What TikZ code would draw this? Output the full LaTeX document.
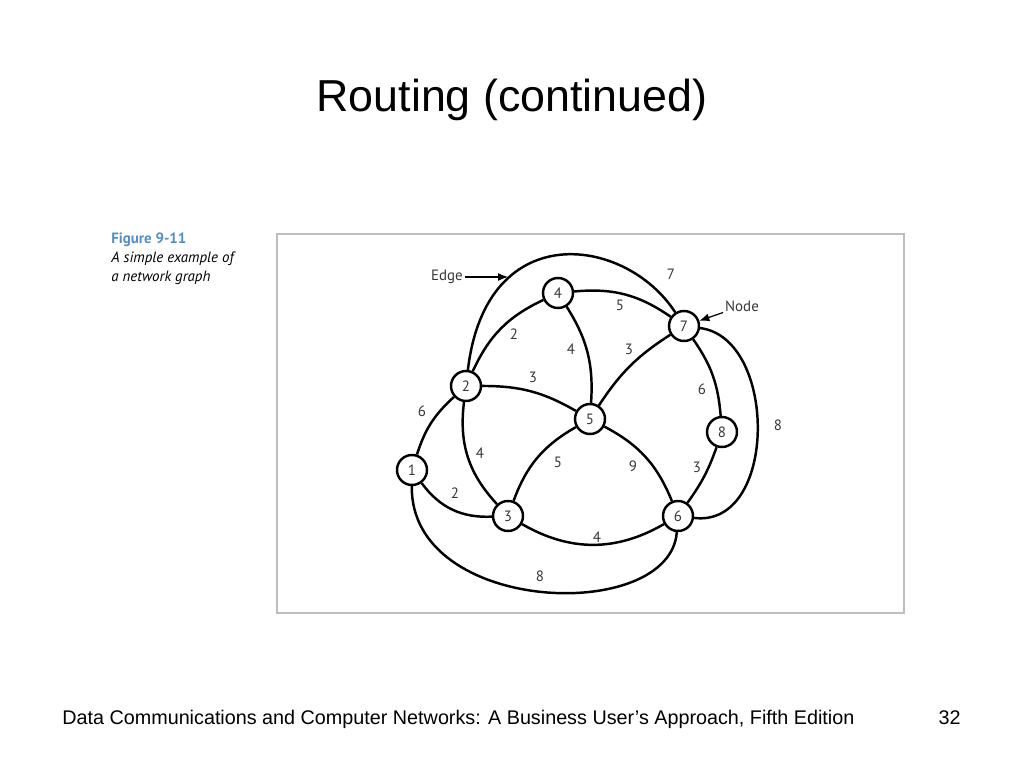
\documentclass[tikz,border=0pt]{standalone}
\usepackage{fontspec}
\setmainfont{Liberation Sans}
\newfontfamily\figfont{PT Sans}
\usetikzlibrary{arrows.meta}
\definecolor{figblue}{RGB}{84,141,196}
\definecolor{framegray}{RGB}{190,190,190}
\definecolor{inkgray}{RGB}{55,55,55}

\tikzset{
  netnode/.style={circle, draw, line width=1.4pt, minimum size=0.6cm, inner sep=0pt,
    text=inkgray, font=\figfont\fontsize{8.5}{9}\selectfont},
  link/.style={line width=1.4pt},
  weight/.style={text=inkgray, font=\figfont\fontsize{8.5}{9}\selectfont},
  callout/.style={line width=0.7pt, -{Latex[length=2mm,width=1.6mm]}}
}

\begin{document}
\begin{tikzpicture}[x=0.02cm, y=0.02cm]
    \useasboundingbox (0,0) rectangle (1024,768);

    % Slide title
    \node[anchor=base, font=\fontsize{25.5}{30}\selectfont] (title) at (512,656) {Routing (continued)};

    % Figure caption
    \node[anchor=base west, inner sep=0pt, text=figblue, font=\figfont\bfseries\fontsize{8.5}{10}\selectfont] (fignum) at (111,524) {Figure 9-11};
    \node[anchor=base west, inner sep=0pt, font=\figfont\itshape\fontsize{8.5}{10}\selectfont] (figcap1) at (111,505) {A simple example of};
    \node[anchor=base west, inner sep=0pt, font=\figfont\itshape\fontsize{8.5}{10}\selectfont] (figcap2) at (111,486) {a network graph};

    % Figure frame
    \draw[framegray, line width=0.9pt] (277,155) rectangle (904,534);

    % Network nodes
    \node[netnode] (n1) at (412,298) {1};
    \node[netnode] (n2) at (466,382) {2};
    \node[netnode] (n3) at (508,252) {3};
    \node[netnode] (n4) at (558,475) {4};
    \node[netnode] (n5) at (590,349) {5};
    \node[netnode] (n6) at (678,252) {6};
    \node[netnode] (n7) at (684,442) {7};
    \node[netnode] (n8) at (722,336) {8};

    % Edges
    \draw[link] (n2) .. controls +(20,170) and +(-58,90) .. (n7);
    \draw[link] (n2) to[bend left=20] (n4);
    \draw[link] (n4) to[bend left=20] (n7);
    \draw[link] (n4) to[bend left=18] (n5);
    \draw[link] (n7) to[bend right=12] (n5);
    \draw[link] (n2) to[bend left=15] (n5);
    \draw[link] (n7) to[bend left=15] (n8);
    \draw[link] (n7) .. controls +(94,-12) and +(100,-12) .. (n6);
    \draw[link] (n2) to[bend right=15] (n1);
    \draw[link] (n2) to[bend right=25] (n3);
    \draw[link] (n5) to[bend right=20] (n3);
    \draw[link] (n5) to[bend left=20] (n6);
    \draw[link] (n8) to[bend left=8] (n6);
    \draw[link] (n1) to[bend right=28] (n3);
    \draw[link] (n3) to[bend right=30] (n6);
    \draw[link] (n1) .. controls +(-2,-145) and +(-8,-108) .. (n6);

    % Edge weights
    \node[weight] (w27) at (671,494) {7};
    \node[weight] (w24) at (514,434) {2};
    \node[weight] (w47) at (620,463) {5};
    \node[weight] (w45) at (571,419) {4};
    \node[weight] (w75) at (629,419) {3};
    \node[weight] (w25) at (533,391) {3};
    \node[weight] (w78) at (702,379) {6};
    \node[weight] (w76) at (778,343) {8};
    \node[weight] (w21) at (422,357) {6};
    \node[weight] (w23) at (480,315) {4};
    \node[weight] (w53) at (558,306) {5};
    \node[weight] (w56) at (633,302) {9};
    \node[weight] (w86) at (697,301) {3};
    \node[weight] (w13) at (455,275) {2};
    \node[weight] (w36) at (597,231) {4};
    \node[weight] (w16) at (540,192) {8};

    % Callouts
    \node[weight, inner sep=1pt] (edgetext) at (447,491) {Edge};
    \coordinate (edgetip) at (508,491);
    \draw[callout] (edgetext) -- (edgetip);
    \node[weight, inner sep=1pt] (nodetext) at (742,462) {Node};
    \draw[callout] (nodetext) -- (n7);

    % Footer
    \node[anchor=base west, inner sep=0pt, font=\fontsize{11.25}{13}\selectfont] (footer) at (62,44) {Data Communications and Computer Networks: A Business User's Approach, Fifth Edition};
    \node[anchor=base east, inner sep=0pt, font=\fontsize{11.25}{13}\selectfont] (pagenum) at (961,44) {32};
\end{tikzpicture}
\end{document}
